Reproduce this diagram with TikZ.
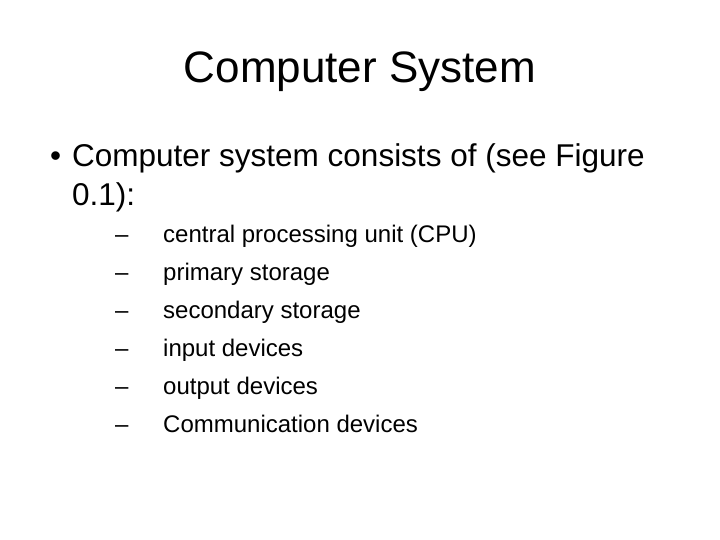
\documentclass[tikz,border=0pt]{standalone}
\usepackage{fontspec}
\setmainfont{Liberation Sans}
\begin{document}
\begin{tikzpicture}[x=1pt,y=-1pt,
  title/.style={font=\fontsize{44}{48}\selectfont,anchor=base},
  lvl/.style={font=\fontsize{31.5}{36}\selectfont,anchor=base west,inner sep=0},
  sub/.style={font=\fontsize{24}{28}\selectfont,anchor=base west,inner sep=0}]
\useasboundingbox (0,0) rectangle (720,540);
\node[title] (t) at (360,83) {Computer System};
\node[lvl] (b) at (50,167) {•};
\node[lvl] (l1) at (72,167) {Computer system consists of (see Figure};
\node[lvl] (l2) at (72,206) {0.1):};
\foreach \y/\txt [count=\i] in {242/central processing unit (CPU),280/primary storage,318/secondary storage,356/input devices,394/output devices,432/Communication devices}{
  \node[sub] (d\i) at (115,\y) {–};
  \node[sub] (s\i) at (163,\y) {\txt};
}
\end{tikzpicture}
\end{document}
